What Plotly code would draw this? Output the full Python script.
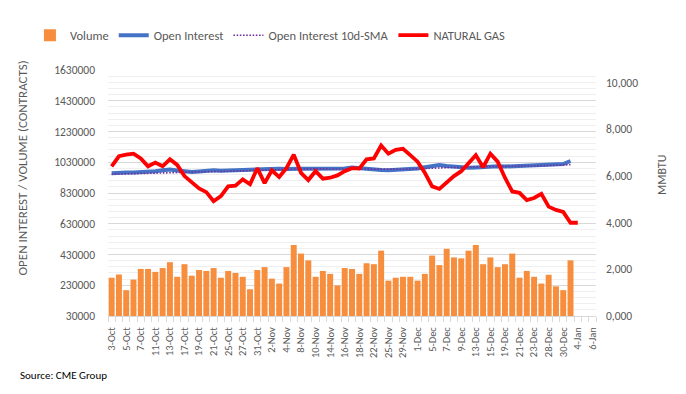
import plotly.graph_objects as go

# ---------------- data ----------------
categories = [
    "3-Oct", "4-Oct", "5-Oct", "6-Oct", "7-Oct", "10-Oct", "11-Oct", "12-Oct", "13-Oct", "14-Oct",
    "17-Oct", "18-Oct", "19-Oct", "20-Oct", "21-Oct", "24-Oct", "25-Oct", "26-Oct", "27-Oct", "28-Oct",
    "31-Oct", "1-Nov", "2-Nov", "3-Nov", "4-Nov", "7-Nov", "8-Nov", "9-Nov", "10-Nov", "11-Nov",
    "14-Nov", "15-Nov", "16-Nov", "17-Nov", "18-Nov", "21-Nov", "22-Nov", "23-Nov", "25-Nov", "28-Nov",
    "29-Nov", "30-Nov", "1-Dec", "2-Dec", "5-Dec", "6-Dec", "7-Dec", "8-Dec", "9-Dec", "12-Dec",
    "13-Dec", "14-Dec", "15-Dec", "16-Dec", "19-Dec", "20-Dec", "21-Dec", "22-Dec", "23-Dec", "27-Dec",
    "28-Dec", "29-Dec", "30-Dec", "3-Jan", "4-Jan", "5-Jan", "6-Jan",
]

volume = [
    279000, 300000, 198000, 267000, 336000, 336000, 317000, 342000, 380000, 285000,
    367000, 292000, 329000, 323000, 342000, 279000, 323000, 310000, 285000, 204000,
    329000, 348000, 273000, 241000, 348000, 492000, 436000, 392000, 285000, 323000,
    304000, 229000, 342000, 336000, 304000, 373000, 367000, 455000, 260000, 279000,
    285000, 285000, 260000, 304000, 423000, 361000, 467000, 411000, 405000, 455000,
    492000, 367000, 411000, 348000, 367000, 436000, 279000, 323000, 285000, 241000,
    298000, 223000, 198000, 392000,
]

open_interest = [
    958000, 962000, 963000, 963000, 965000, 968000, 972000, 978000, 982000, 976000,
    968000, 966000, 970000, 976000, 978000, 975000, 974000, 978000, 980000, 982000,
    984000, 986000, 992000, 988000, 986000, 990000, 988000, 987000, 988000, 987000,
    986000, 985000, 990000, 995000, 990000, 987000, 984000, 980000, 978000, 980000,
    982000, 985000, 990000, 998000, 1004000, 1012000, 1006000, 1000000, 998000, 994000,
    996000, 1000000, 1006000, 1004000, 1002000, 1004000, 1006000, 1008000, 1008000, 1010000,
    1011000, 1013000, 1018000, 1038000,
]

oi_sma = [
    952000, 953000, 954000, 955000, 956000, 957000, 958000, 960000, 962000, 964000,
    966000, 967000, 968000, 969000, 970000, 971000, 972000, 973000, 974000, 976000,
    978000, 980000, 982000, 983000, 984000, 985000, 986000, 987000, 987000, 988000,
    988000, 988000, 988000, 989000, 989000, 989000, 988000, 987000, 986000, 985000,
    984000, 985000, 986000, 988000, 990000, 993000, 995000, 997000, 998000, 999000,
    1000000, 1001000, 1002000, 1002000, 1003000, 1003000, 1004000, 1005000, 1006000, 1007000,
    1008000, 1009000, 1010000, 1014000,
]

natural_gas = [
    6420, 6850, 6920, 6960, 6760, 6420, 6580, 6420, 6720, 6480,
    6000, 5750, 5470, 5310, 4920, 5140, 5560, 5590, 5860, 5650,
    6340, 5700, 6250, 5960, 6340, 6920, 6140, 5830, 6210, 5890,
    5930, 6030, 6210, 6340, 6320, 6720, 6760, 7310, 6960, 7130,
    7170, 6900, 6620, 6140, 5560, 5450, 5720, 6000, 6210, 6550,
    6900, 6380, 6960, 6620, 5930, 5340, 5280, 4970, 5060, 5240,
    4690, 4550, 4460, 4000, 4000,
]

left_ticks = [30000, 230000, 430000, 630000, 830000, 1030000, 1230000, 1430000, 1630000]
right_tick_vals = [0, 2000, 4000, 6000, 8000, 10000]
right_tick_text = ["0,000", "2,000", "4,000", "6,000", "8,000", "10,000"]

# ---------------- figure ----------------
FONT = "Calibri, Carlito, Lato, sans-serif"
GREY = "#595959"

x_idx = list(range(len(categories)))
label_idx = x_idx[::2]
label_txt = [categories[i] for i in label_idx]

fig = go.Figure()
fig.add_trace(go.Bar(
    x=x_idx[:len(volume)], y=volume, name="Volume",
    marker=dict(color="#F68E3E", line=dict(width=0)),
))
fig.add_trace(go.Scatter(
    x=x_idx[:len(open_interest)], y=open_interest, name="Open Interest",
    mode="lines", line=dict(color="#4472C4", width=4),
))
fig.add_trace(go.Scatter(
    x=x_idx[:len(oi_sma)], y=oi_sma, name="Open Interest 10d-SMA",
    mode="lines", line=dict(color="#7030A0", width=1.6, dash="1.6px,1.6px"),
))
fig.add_trace(go.Scatter(
    x=x_idx[:len(natural_gas)], y=natural_gas, name="NATURAL GAS",
    mode="lines", line=dict(color="#FF0000", width=3.8), yaxis="y2",
))

fig.update_layout(
    width=686, height=394,
    margin=dict(l=100, r=98, t=53, b=86),
    paper_bgcolor="white", plot_bgcolor="white",
    font=dict(family=FONT, color=GREY, size=11),
    bargap=0.18,
    showlegend=True,
    legend=dict(
        orientation="h", x=-0.16, xanchor="left", y=1.14, yanchor="middle",
        font=dict(family=FONT, size=12.5, color=GREY),
        itemwidth=30, tracegroupgap=0,
    ),
    xaxis=dict(
        range=[-0.5, len(categories) - 0.5],
        tickmode="array", tickvals=label_idx, ticktext=label_txt,
        tickangle=-90, tickfont=dict(size=10.5, color=GREY, family=FONT),
        ticks="", showgrid=False, zeroline=False,
        showline=True, linecolor="#D9D9D9", linewidth=1,
        minor=dict(ticks="outside", tick0=-0.5, dtick=1, ticklen=5,
                   tickcolor="#D9D9D9", showgrid=False),
        ticklabelstandoff=6,
    ),
    yaxis=dict(
        range=[30000, 1630000], tickmode="array", tickvals=left_ticks,
        tickformat="d", tickfont=dict(size=11.5, color=GREY, family=FONT),
        showgrid=True, gridcolor="#D9D9D9", gridwidth=1,
        minor=dict(dtick=40000, tick0=30000, showgrid=True, gridcolor="#EFEFEF", gridwidth=1),
        zeroline=False, showline=False, ticks="", ticklabelstandoff=12,
    ),
    yaxis2=dict(
        range=[0, 10550], overlaying="y", side="right",
        tickmode="array", tickvals=right_tick_vals, ticktext=right_tick_text,
        tickfont=dict(size=11.5, color=GREY, family=FONT),
        showgrid=False, zeroline=False, showline=False, ticks="", ticklabelstandoff=9,
    ),
    annotations=[
        dict(text="OPEN INTEREST / VOLUME (CONTRACTS)", xref="paper", yref="paper",
             x=-0.176, y=0.6, textangle=-90, showarrow=False,
             xanchor="center", yanchor="middle",
             font=dict(family=FONT, size=13, color=GREY)),
        dict(text="MMBTU", xref="paper", yref="paper",
             x=1.135, y=0.573, textangle=-90, showarrow=False,
             xanchor="center", yanchor="middle",
             font=dict(family=FONT, size=12, color=GREY)),
        dict(text="Source: CME Group", xref="paper", yref="paper",
             x=-0.184, y=-0.243, showarrow=False,
             xanchor="left", yanchor="middle",
             font=dict(family=FONT, size=11, color="#000000")),
    ],
)

fig.write_html("out.html")
